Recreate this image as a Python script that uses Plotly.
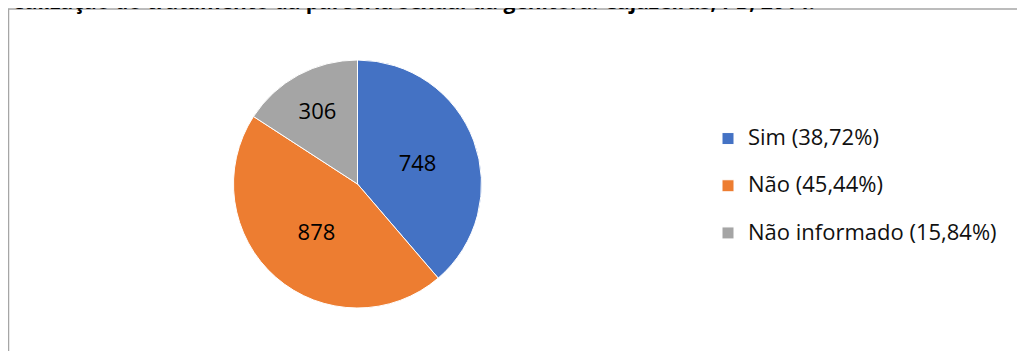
import plotly.graph_objects as go

categories = ["Sim (38,72%)", "Não (45,44%)", "Não informado (15,84%)"]
values = [748, 878, 306]
colors = ["#4472C4", "#ED7D31", "#A5A5A5"]
title_text = ("Gráfico 5 – Distribuição quanto à realização do tratamento da parceria sexual "
              "da genitora. Cajazeiras, PB, 2014.")

# figure size; page body adds an 8px offset, coordinates below are in figure pixels
W, H = 1025, 351
cx, cy, r = 349.5, 176, 124

fig = go.Figure(go.Pie(
    labels=['<span style="font-size:22px">' + c + "</span><br> " for c in categories],
    values=values,
    sort=False,
    direction="clockwise",
    rotation=0,
    marker=dict(colors=colors, line=dict(color="white", width=1)),
    textinfo="value",
    textposition="inside",
    insidetextorientation="horizontal",
    textfont=dict(family="Open Sans", size=22, color="black"),
    domain=dict(x=[(cx - r) / W, (cx + r) / W], y=[(H - cy - r) / H, (H - cy + r) / H]),
    hoverinfo="value+percent",
))

fig.update_layout(
    width=W, height=H,
    margin=dict(l=0, r=0, t=0, b=0),
    paper_bgcolor="white",
    font=dict(family="Open Sans", color="black"),
    showlegend=True,
    legend=dict(x=700 / W, xanchor="left", y=(H - 113) / H, yanchor="top",
                valign="top", font=dict(family="Open Sans", size=17, color="#111"),
                itemwidth=30),
    shapes=[dict(type="rect", xref="paper", yref="paper",
                 x0=0.5 / W, x1=1.05, y0=-0.1, y1=(H - 1) / H,
                 line=dict(color="#A6A6A6", width=1.5), fillcolor="rgba(0,0,0,0)", layer="below")],
    annotations=[dict(text="<b>" + title_text + "</b>", xref="paper", yref="paper",
                      x=809 / W, xanchor="right", y=(H + 7) / H, yanchor="middle",
                      showarrow=False, font=dict(family="Open Sans", size=21, color="black"))],
)

fig.write_html("out.html")
